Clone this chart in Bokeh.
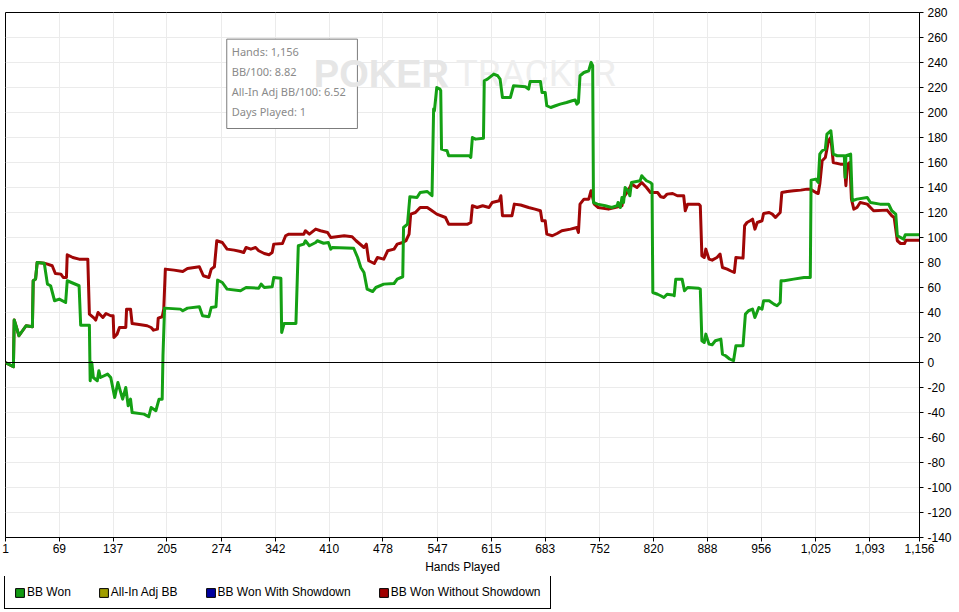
from bokeh.plotting import figure
from bokeh.layouts import column
from bokeh.models import (Range1d, FixedTicker, NumeralTickFormatter, Span, Legend,
                          LegendItem, Label, BoxAnnotation, ColumnDataSource)
from bokeh.embed import file_html
from bokeh.resources import INLINE

# ---------------- data ----------------
x_ticks = [1, 69, 137, 205, 274, 342, 410, 478, 547, 615, 683, 752, 820, 888, 956, 1025, 1093, 1156]
y_ticks = list(range(-140, 281, 20))

green_hands = [1, 11, 12, 18, 27, 35, 36, 39, 41, 50, 54, 58, 63, 69, 77, 79, 94, 96, 107, 108,
               110, 112, 117, 119, 121, 130, 134, 139, 143, 149, 153, 156, 159, 161, 176, 182, 185, 191, 195, 199,
               200, 202, 222, 225, 231, 246, 250, 258, 261, 267, 269, 275, 281, 298, 305, 321, 324, 328, 338, 340,
               349, 350, 353, 368, 371, 378, 380, 385, 393, 395, 403, 409, 412, 414, 441, 446, 450, 454, 458, 465,
               469, 479, 492, 496, 503, 504, 509, 512, 521, 525, 534, 540, 542, 543, 546, 550, 551, 552, 559, 561,
               587, 589, 591, 595, 605, 606, 610, 618, 623, 626, 629, 639, 643, 658, 662, 664, 677, 679, 683, 685,
               690, 696, 702, 710, 717, 721, 723, 725, 727, 732, 738, 741, 743, 744, 749, 759, 767, 774, 775, 778,
               780, 782, 784, 788, 790, 792, 803, 805, 807, 811, 816, 818, 819, 825, 829, 833, 837, 844, 846, 848,
               856, 859, 863, 877, 879, 881, 884, 886, 890, 894, 898, 905, 907, 911, 916, 921, 924, 933, 936, 940,
               945, 948, 953, 957, 959, 966, 972, 976, 980, 981, 985, 997, 1010, 1018, 1019, 1025, 1028, 1030, 1033, 1037,
               1039, 1044, 1047, 1052, 1061, 1062, 1063, 1069, 1071, 1077, 1090, 1094, 1106, 1117, 1121, 1126, 1128, 1136, 1138, 1156]
green_bb = [0, -3.4, 34, 21.4, 29.4, 28.6, 65.4, 66.7, 80, 79.4, 62.7, 61.4, 49.4, 50.7, 48, 65.4, 61.4, 29.9, 29.9, -14.6,
            0, -12, -14.6, -6.6, -12, -9.3, -12, -28, -16, -29.3, -20, -34.6, -29.3, -40, -41.3, -43.4, -36, -38.6, -29.3, -29.3,
            5.4, 43.5, 42.7, 41.4, 43.5, 44.6, 37.4, 36.6, 44, 44.6, 65.9, 64, 58.7, 57.4, 60, 59.4, 62.7, 60, 60.6, 68,
            67.4, 24, 31.2, 31.2, 93.4, 94.7, 97.4, 93.4, 96, 97.4, 95.4, 96, 90.7, 92, 91.4, 84, 76, 72, 58.7, 56.8,
            60, 62.7, 63.2, 66.7, 68.6, 108, 110.7, 132.6, 132, 136, 136.8, 133.4, 202.7, 201.4, 220, 218.7, 217.4, 170.7, 169.4, 165.4,
            165.4, 164, 180, 178.7, 179.4, 225.4, 226.7, 230.7, 229.4, 226.7, 212, 212, 221.4, 220.6, 218.7, 224.8, 224.8, 216, 216, 205.4,
            204, 205.4, 206.7, 208, 209.4, 210, 206.7, 208, 229.4, 232, 233.4, 240, 237.4, 128, 126.7, 125.4, 124, 125.4, 128, 124,
            132, 128, 140, 137.4, 133.4, 144, 145.4, 149.4, 148, 145.4, 144, 142.7, 56, 54.6, 53.4, 52, 54.6, 54, 53.4, 66.7,
            66.7, 57.4, 60, 59.4, 58.7, 17.4, 16, 22.7, 14.7, 14.2, 17.4, 18.7, 6.7, 5.4, 2.8, 1.4, 13.4, 13.4, 38.7, 41.4,
            42.7, 36, 44, 42.7, 49.4, 49.4, 46.7, 45.4, 48, 65.4, 65.4, 66.7, 68, 68, 145.9, 146.7, 144, 166.7, 169.4, 170.7,
            182.7, 185.4, 166.7, 165.4, 165.4, 148, 165.4, 166.7, 129.4, 130.7, 132, 128, 126.7, 126.7, 121.4, 118.7, 101.4, 98.7, 102.2, 102.2]

red_hands = [1, 11, 12, 18, 27, 35, 36, 39, 41, 50, 54, 60, 64, 71, 74, 78, 79, 86, 94, 105,
             107, 113, 115, 118, 124, 128, 134, 137, 138, 142, 145, 153, 154, 159, 161, 172, 180, 185, 188, 193,
             194, 199, 201, 203, 214, 225, 231, 246, 251, 258, 261, 265, 268, 275, 281, 290, 298, 302, 305, 311,
             317, 321, 328, 334, 338, 340, 351, 355, 359, 378, 380, 385, 393, 399, 408, 412, 429, 439, 444, 454,
             457, 460, 467, 471, 479, 484, 492, 496, 503, 507, 511, 513, 519, 525, 534, 540, 546, 557, 561, 585,
             589, 591, 597, 604, 612, 616, 625, 627, 629, 641, 644, 652, 662, 670, 677, 679, 683, 685, 692, 698,
             704, 715, 723, 725, 727, 732, 738, 741, 743, 745, 750, 763, 771, 780, 782, 788, 792, 799, 805, 811,
             816, 825, 829, 833, 837, 844, 850, 858, 860, 863, 877, 879, 881, 884, 886, 890, 894, 900, 904, 907,
             913, 917, 922, 924, 933, 935, 938, 942, 945, 948, 951, 957, 959, 966, 970, 974, 976, 980, 982, 989,
             997, 1006, 1014, 1018, 1025, 1028, 1030, 1033, 1037, 1041, 1044, 1047, 1056, 1061, 1063, 1065, 1068, 1070, 1073, 1077,
             1081, 1090, 1094, 1098, 1115, 1121, 1124, 1128, 1132, 1137, 1139, 1156]
red_bb = [0, -3.4, 34, 21.4, 29.4, 28.6, 65.4, 66.7, 80, 79.4, 78.7, 77.4, 71.2, 70.7, 68, 68, 86.2, 84, 82.7, 82.7,
          38.7, 35.5, 33.9, 40, 36, 39.2, 37.4, 37.4, 20, 22.7, 28, 28, 42.7, 42.7, 31.2, 30.2, 29.4, 28, 25.9, 26.7,
          35.5, 36.6, 42.7, 74.7, 73.9, 72.8, 75.2, 76.6, 69.4, 68, 74.7, 76.6, 97.4, 96, 90.7, 89.9, 88.8, 88, 92, 90.7,
          92, 89.4, 87.2, 86.2, 88, 94.7, 95.2, 101.4, 102.7, 102.7, 105.4, 102.7, 106.7, 105.4, 104, 100, 101.4, 100.6, 97.4, 92,
          94.7, 81.4, 79.2, 84, 82.7, 89.4, 90.7, 94.7, 96, 97.4, 102.7, 118.7, 120, 124, 124, 121.4, 118.7, 116, 110.7, 110.7,
          112, 125.4, 124, 125.4, 124, 128, 129.4, 133.4, 117.4, 117.4, 126.7, 126, 124, 122.7, 121.4, 113.4, 113.4, 102.7, 101.4, 103.2,
          105.4, 106.7, 108, 104, 126.7, 130.7, 130.7, 137.4, 132, 126.7, 124, 122.7, 124, 125.4, 132, 137.4, 142.7, 140, 144, 140,
          136, 136, 132.6, 132, 134.7, 135.2, 133.4, 133.4, 121.4, 126.7, 126.7, 125.4, 85.4, 84, 90.7, 82.7, 81.9, 84, 86.7, 76,
          74.7, 73.4, 72, 84, 83.5, 109.4, 112, 113.4, 114.7, 106.7, 112, 113.4, 119.2, 120, 118.7, 116, 117.4, 120, 136, 136.8,
          137.4, 137.9, 138.7, 138.7, 136, 135.2, 142.7, 161.4, 164, 177.4, 180, 160, 158.7, 158.7, 141.4, 158.7, 160, 130.7, 122.7, 124,
          128, 126.7, 124, 121.4, 121.9, 117.4, 116, 97.4, 95.2, 95.2, 97.9, 97.9]

legend_names = ["BB Won", "All-In Adj BB", "BB Won With Showdown", "BB Won Without Showdown"]
legend_colors = ["#129a12", "#a09e00", "#0000a0", "#a00000"]

tooltip_lines = ["Hands: 1,156", "BB/100: 8.82", "All-In Adj BB/100: 6.52", "Days Played: 1"]

# ---------------- main chart ----------------
FONT = "Liberation Sans"

p = figure(frame_width=914, frame_height=525,
           x_range=Range1d(1, 1156), y_range=Range1d(-140, 280),
           output_backend="svg", toolbar_location=None, y_axis_location="right",
           min_border_left=5, min_border_top=12, min_border_right=2, min_border_bottom=38)

p.background_fill_color = "white"
p.border_fill_color = "white"
p.outline_line_color = "black"
p.outline_line_width = 1
p.outline_line_alpha = 1

xa = p.xaxis[0]
xa.ticker = FixedTicker(ticks=x_ticks)
xa.formatter = NumeralTickFormatter(format="0,0")
xa.axis_label = "Hands Played"
ya = p.yaxis[0]
ya.ticker = FixedTicker(ticks=y_ticks)
ya.formatter = NumeralTickFormatter(format="0")
for ax in (xa, ya):
    ax.axis_line_color = "black"
    ax.major_tick_line_color = "black"
    ax.major_tick_out = 4
    ax.major_tick_in = 0
    ax.minor_tick_line_color = None
    ax.major_label_text_font = FONT
    ax.major_label_text_font_size = "12px"
    ax.major_label_text_color = "black"
    ax.axis_label_text_font = FONT
    ax.axis_label_text_font_size = "12px"
    ax.axis_label_text_font_style = "normal"
    ax.axis_label_text_color = "black"
xa.major_label_standoff = 2
xa.axis_label_standoff = 4
ya.major_label_standoff = 4

p.xgrid.ticker = FixedTicker(ticks=x_ticks)
p.ygrid.ticker = FixedTicker(ticks=y_ticks)
for g in (p.xgrid[0], p.ygrid[0]):
    g.grid_line_color = "#ebebeb"
    g.grid_line_width = 1

# tooltip box (under the watermark, over the grid)
p.add_layout(BoxAnnotation(left=280.6, right=445.7, top=258.7, bottom=187.2,
                           fill_color="white", fill_alpha=1, line_color="#7c7c7c",
                           line_width=1, line_alpha=1, level="underlay"))

# watermark
p.add_layout(Label(x=390.6, y=231, text="POKER", text_font=FONT, text_font_size="38px",
                   text_font_style="bold", text_color="#e6e6e6", text_baseline="alphabetic",
                   level="underlay"))
p.add_layout(Label(x=570, y=231, text="TRACKER", text_font="Roboto",
                   text_font_size="37px", text_color="#eeeeee", text_baseline="alphabetic",
                   level="underlay"))

p.add_layout(Span(location=0, dimension="width", line_color="black", line_width=1))

red_src = ColumnDataSource(dict(x=red_hands, y=red_bb))
green_src = ColumnDataSource(dict(x=green_hands, y=green_bb))
p.line("x", "y", source=red_src, line_color="#a00606", line_width=3, line_join="round")
p.line("x", "y", source=green_src, line_color="#14a014", line_width=3, line_join="round")

for i, t in enumerate(tooltip_lines):
    p.add_layout(Label(x=286.9, y=248.8 - 16.0 * i, text=t, text_font="Noto Sans",
                       text_font_size="11px", text_color="#8a8a8a", text_baseline="middle"))

# ---------------- legend strip ----------------
lg = figure(frame_width=950, frame_height=37, x_range=Range1d(0, 1), y_range=Range1d(0, 1),
            output_backend="svg", toolbar_location=None,
            x_axis_location=None, y_axis_location=None,
            min_border_left=0, min_border_right=0, min_border_top=0, min_border_bottom=0)
lg.outline_line_color = None
lg.xgrid.visible = False
lg.ygrid.visible = False
lg.background_fill_color = "white"
lg.border_fill_color = "white"

items = []
for name, col in zip(legend_names, legend_colors):
    # placeholder swatch renderer, kept outside the strip's visible range
    r = lg.quad(left=[5], right=[6], top=[6], bottom=[5], fill_color=col,
                line_color="black", line_width=1)
    items.append(LegendItem(label=name, renderers=[r]))
legend = Legend(items=items, orientation="horizontal", location=(4, 4),
                margin=0, padding=9, spacing=27, label_standoff=2,
                glyph_width=11, glyph_height=11, label_height=11,
                label_text_font=FONT, label_text_font_size="12px", label_text_color="black",
                label_text_baseline="middle",
                border_line_color="black", border_line_width=1, border_line_alpha=1,
                background_fill_color="white", background_fill_alpha=1)
lg.add_layout(legend)

layout = column(p, lg, spacing=0)
open("out.html", "w").write(file_html(layout, INLINE))
